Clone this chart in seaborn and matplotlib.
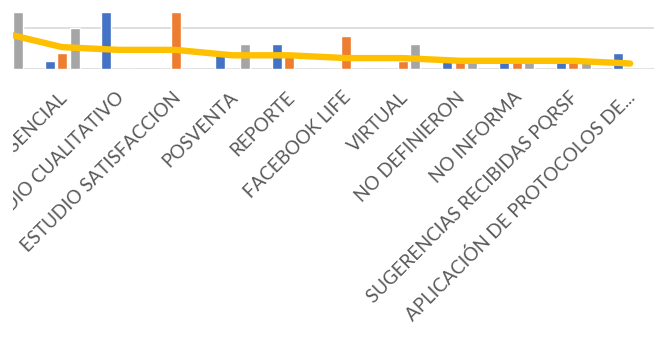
import matplotlib
matplotlib.use("Agg")
import matplotlib.pyplot as plt
import matplotlib.transforms as mtransforms
from matplotlib.patches import Rectangle
import numpy as np
import pandas as pd
import seaborn as sns

# Categories (the first one falls outside the visible crop)
categories = ["TELEFÓNICO", "PRESENCIAL", "ESTUDIO CUALITATIVO", "ESTUDIO SATISFACCION",
              "POSVENTA", "REPORTE", "FACEBOOK LIFE", "VIRTUAL", "NO DEFINIERON",
              "NO INFORMA", "SUGERENCIAS RECIBIDAS PQRSF", "APLICACIÓN DE PROTOCOLOS DE..."]
serie1 = [6, 1, 7, 0, 2, 3, 0, 0, 1, 1, 1, 2]
serie2 = [0, 2, 0, 7, 0, 2, 4, 1, 1, 1, 1, 0]
serie3 = [7, 5, 0, 0, 3, 0, 0, 3, 1, 1, 1, 0]
promedio = [4.33, 2.67, 2.33, 2.33, 1.67, 1.67, 1.33, 1.33, 1.0, 1.0, 1.0, 0.67]
series_names = ["Serie 1", "Serie 2", "Serie 3"]
colors = ["#4472C4", "#ED7D31", "#A5A5A5"]

df = pd.DataFrame({
    "categoria": categories * 3,
    "serie": np.repeat(series_names, len(categories)),
    "valor": serie1 + serie2 + serie3,
})

sns.set_style("white")
plt.rcParams['font.family'] = ['Lato', 'DejaVu Sans']

W, H = 654, 339
fig = plt.figure(figsize=(W / 100, H / 100), dpi=100)
ax = fig.add_axes([13 / W, 270 / H, 641 / W, 82 / H])

sns.barplot(data=df, x="categoria", y="valor", hue="serie", order=categories,
            hue_order=series_names, palette=colors, width=0.66, gap=0.2,
            saturation=1, legend=False, ax=ax, zorder=2)
sns.lineplot(x=np.arange(len(categories)), y=promedio, color="#FFC000", lw=4.6,
             solid_capstyle="round", ax=ax, zorder=3)

ax.set_yticks([0, 5, 10])
ax.set_yticklabels([])
ax.yaxis.grid(True, color="#D9D9D9", lw=1.2, zorder=0)
ax.set_axisbelow(True)
for s in ax.spines.values():
    s.set_visible(False)
ax.set_xlabel("")
ax.set_ylabel("")

ax.set_xticks(range(len(categories)))
ax.set_xticklabels(categories, rotation=45, ha="right", va="center",
                   rotation_mode="anchor", color="#595959", fontsize=13.5)
ax.tick_params(axis="x", length=0, pad=18.5)
ax.tick_params(axis="y", length=0)
offset = mtransforms.ScaledTranslation(1.5 / 72, 0, fig.dpi_scale_trans)
for lbl in ax.get_xticklabels():
    lbl.set_transform(lbl.get_transform() + offset)

# limits last, set_xticks would widen them
ax.set_ylim(0, 10)
ax.set_xlim(0.137, 11.42)

# the reference is cropped on the left
fig.add_artist(Rectangle((0, 0), 13 / W, 1, transform=fig.transFigure,
                         facecolor="white", edgecolor="none", zorder=10))

fig.savefig("out.png", dpi=100, facecolor="white")
